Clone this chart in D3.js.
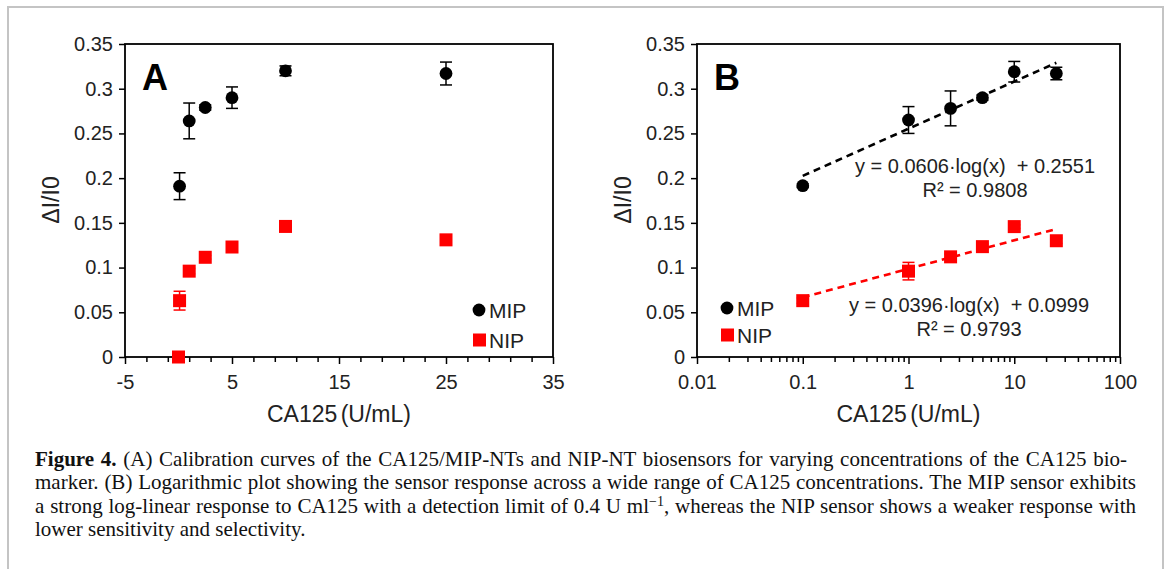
<!DOCTYPE html>
<html>
<head>
<meta charset="utf-8">
<script src="https://cdn.jsdelivr.net/npm/d3@7"></script>
<style>
    body { margin: 0; background: #fff; }
    svg { display: block; font-family: "Liberation Sans", Arial, sans-serif; }
    .caption { font-family: "Liberation Serif", "Times New Roman", serif; font-size: 21px; fill: #111; }
</style>
</head>
<body>
<svg id="drawing_region"></svg>
<script>
// concentrations of CA125 (U/mL)
const concentrations = [0.1, 1, 2.5, 5, 10, 25];
const concentrationsNipA = [0, 0.1, 1, 2.5, 5, 10, 25];

// panel A, linear axis
const mipA = [0.191, 0.264, 0.279, 0.290, 0.320, 0.317];
const mipErrA = [0.015, 0.020, 0.003, 0.012, 0.0055, 0.0128];
const nipA = [0, 0.063, 0.096, 0.1115, 0.123, 0.146, 0.131];
const nipErrA = [0.002, 0.0105, 0.003, 0.002, 0.002, 0.002, 0.003];

// panel B, log axis
const mipB = [0.1916, 0.265, 0.278, 0.290, 0.319, 0.317];
const mipErrB = [0.002, 0.015, 0.0195, 0.003, 0.0115, 0.007];
const nipB = [0.063, 0.096, 0.112, 0.1234, 0.1458, 0.130];
const nipErrB = [0.003, 0.0098, 0.003, 0.003, 0.002, 0.003];

// fitted lines as drawn in panel B
const trendX = [0.1, 25];
const mipTrendY = [0.2025, 0.329];
const nipTrendY = [0.0667, 0.1432];

const yTicks = [0, 0.05, 0.1, 0.15, 0.2, 0.25, 0.3, 0.35];
const xTicksA = [-5, 5, 15, 25, 35];
const xTicksB = [0.01, 0.1, 1, 10, 100];
const xTickLabelsB = ["0.01", "0.1", "1", "10", "100"];

const mipEquation = ["y = 0.0606·log(x)  + 0.2551", "R² = 0.9808"];
const nipEquation = ["y = 0.0396·log(x)  + 0.0999", "R² = 0.9793"];

const captionLines = [
    [{t: "Figure 4.", bold: true}, {t: " (A) Calibration curves of the CA125/MIP-NTs and NIP-NT biosensors for varying concentrations of the CA125 bio-"}],
    [{t: "marker. (B) Logarithmic plot showing the sensor response across a wide range of CA125 concentrations. The MIP sensor exhibits"}],
    [{t: "a strong log-linear response to CA125 with a detection limit of 0.4 U ml"}, {t: "−1", sup: true}, {t: ", whereas the NIP sensor shows a weaker response with"}],
    [{t: "lower sensitivity and selectivity."}]
];

const RED = "#ff0000";
const BLACK = "#000";

const svg = d3.select('#drawing_region')
    .attr('width', 1170)
    .attr('height', 569);

// grey page frame
svg.append('rect')
    .attr('x', 8).attr('y', 7)
    .attr('width', 1155).attr('height', 600)
    .attr('fill', 'none')
    .attr('stroke', '#c4c4c4')
    .attr('stroke-width', 2);

const yscale = d3.scaleLinear().domain([0, 0.35]).range([357, 44]);
const yFormat = d => String(+d.toFixed(2));

function styleAxis(g) {
    g.select('.domain').remove();
    g.selectAll('.tick line').attr('stroke', BLACK).attr('stroke-width', 1.5);
    g.selectAll('.tick text').attr('font-size', 20).attr('fill', '#222')
        .attr('font-family', '"Liberation Sans", Arial, sans-serif');
}

function errorBars(g, xs, ys, es, color, xscale) {
    const eb = g.append('g').attr('stroke', color).attr('stroke-width', 1.5);
    xs.forEach((xv, i) => {
        const cx = xscale(xv);
        const y1 = yscale(ys[i] - es[i]), y2 = yscale(ys[i] + es[i]);
        eb.append('line').attr('x1', cx).attr('x2', cx).attr('y1', y1).attr('y2', y2);
        eb.append('line').attr('x1', cx - 6).attr('x2', cx + 6).attr('y1', y1).attr('y2', y1);
        eb.append('line').attr('x1', cx - 6).attr('x2', cx + 6).attr('y1', y2).attr('y2', y2);
    });
}

function circles(g, xs, ys, xscale) {
    g.selectAll(null).data(xs).enter().append('circle')
        .attr('cx', d => xscale(d))
        .attr('cy', (d, i) => yscale(ys[i]))
        .attr('r', 6.4)
        .attr('fill', BLACK);
}

function squares(g, xs, ys, xscale) {
    g.selectAll(null).data(xs).enter().append('rect')
        .attr('x', d => xscale(d) - 6.5)
        .attr('y', (d, i) => yscale(ys[i]) - 6.5)
        .attr('width', 13).attr('height', 13)
        .attr('fill', RED);
}

function drawPanel(cfg) {
    const g = svg.append('g');
    const xscale = cfg.xscale;
    const [left, right] = xscale.range();
    const [bottom, top] = yscale.range();

    // y axis
    g.append('g')
        .attr('transform', `translate(${left},0)`)
        .call(d3.axisLeft(yscale).tickValues(yTicks).tickSize(6).tickPadding(6).tickFormat(yFormat))
        .call(styleAxis);

    // x axis, minor then major
    g.append('g')
        .attr('transform', `translate(0,${bottom})`)
        .call(d3.axisBottom(xscale).tickValues(cfg.minorTicks).tickSize(5).tickFormat(''))
        .call(styleAxis);
    g.append('g')
        .attr('transform', `translate(0,${bottom})`)
        .call(d3.axisBottom(xscale).tickValues(cfg.majorTicks).tickSize(7).tickPadding(11).tickFormat(cfg.tickFormat))
        .call(styleAxis);

    // plot frame
    g.append('rect')
        .attr('x', left).attr('y', top)
        .attr('width', right - left).attr('height', bottom - top)
        .attr('fill', 'none')
        .attr('stroke', BLACK)
        .attr('stroke-width', 1.8);

    // axis titles
    g.append('text')
        .attr('x', (left + right) / 2)
        .attr('y', 422)
        .attr('text-anchor', 'middle')
        .attr('font-size', 23)
        .attr('word-spacing', -3)
        .attr('fill', '#222')
        .text('CA125 (U/mL)');

    g.append('text')
        .attr('transform', `translate(${left - 66},200) rotate(-90)`)
        .attr('text-anchor', 'middle')
        .attr('font-size', 23)
        .attr('fill', '#222')
        .text('ΔI/I0');

    // panel letter
    g.append('text')
        .attr('x', left + 17)
        .attr('y', 90)
        .attr('font-size', 36)
        .attr('font-weight', 'bold')
        .attr('fill', BLACK)
        .text(cfg.letter);

    return g;
}

function legend(g, x, y, gap) {
    g.append('circle').attr('cx', x).attr('cy', y).attr('r', 6.4).attr('fill', BLACK);
    g.append('text').attr('x', x + 10).attr('y', y + 7.5).attr('font-size', 21).attr('fill', '#222').text('MIP');
    g.append('rect').attr('x', x - 6).attr('y', y + gap - 6.5).attr('width', 13).attr('height', 13).attr('fill', RED);
    g.append('text').attr('x', x + 10).attr('y', y + gap + 7.5).attr('font-size', 21).attr('fill', '#222').text('NIP');
}

function equation(g, cx, y, lines) {
    lines.forEach((t, i) => {
        g.append('text')
            .attr('x', cx).attr('y', y + i * 24)
            .attr('text-anchor', 'middle')
            .attr('font-size', 20)
            .attr('fill', '#222')
            .style('white-space', 'pre')
            .text(t);
    });
}

// ---- panel A ----
const xA = d3.scaleLinear().domain([-5, 35]).range([125, 553]);
const minorA = d3.range(-5, 35.01, 2).filter(v => !xTicksA.includes(v));
const gA = drawPanel({
    xscale: xA, letter: 'A',
    majorTicks: xTicksA, minorTicks: minorA,
    tickFormat: d => String(d)
});
errorBars(gA, concentrationsNipA, nipA, nipErrA, RED, xA);
squares(gA, concentrationsNipA, nipA, xA);
errorBars(gA, concentrations, mipA, mipErrA, BLACK, xA);
circles(gA, concentrations, mipA, xA);
legend(gA, 479, 310, 30);

// ---- panel B ----
const xB = d3.scaleLog().domain([0.01, 100]).range([697, 1120]);
const minorB = [];
xTicksB.slice(0, -1).forEach(p => d3.range(2, 10).forEach(m => minorB.push(p * m)));
const gB = drawPanel({
    xscale: xB, letter: 'B',
    majorTicks: xTicksB, minorTicks: minorB,
    tickFormat: (d, i) => xTickLabelsB[i]
});

const trendLine = d3.line().x(d => xB(d[0])).y(d => yscale(d[1]));
gB.append('path')
    .attr('d', trendLine(trendX.map((v, i) => [v, mipTrendY[i]])))
    .attr('fill', 'none').attr('stroke', BLACK)
    .attr('stroke-width', 2.6).attr('stroke-dasharray', '7,5');
gB.append('path')
    .attr('d', trendLine(trendX.map((v, i) => [v, nipTrendY[i]])))
    .attr('fill', 'none').attr('stroke', RED)
    .attr('stroke-width', 2.6).attr('stroke-dasharray', '7,5');

errorBars(gB, concentrations, nipB, nipErrB, RED, xB);
squares(gB, concentrations, nipB, xB);
errorBars(gB, concentrations, mipB, mipErrB, BLACK, xB);
circles(gB, concentrations, mipB, xB);
legend(gB, 727, 308, 27);
equation(gB, 975, 173, mipEquation);
equation(gB, 969, 312, nipEquation);

// ---- caption ----
const captionX = 35;
const captionRight = [1127, 1136, 1136, null];
captionLines.forEach((parts, i) => {
    const txt = svg.append('text')
        .attr('class', 'caption')
        .attr('x', captionX)
        .attr('y', 466 + i * 23.3)
        .style('white-space', 'pre');
    parts.forEach((p, k) => {
        const ts = txt.append('tspan').text(p.t);
        if (p.bold) ts.attr('font-weight', 'bold');
        if (p.sup) ts.attr('font-size', 14).attr('dy', -7);
        if (k > 0 && parts[k - 1].sup) ts.attr('dy', 7);
    });
    // justify full lines by spreading the spaces
    if (captionRight[i]) {
        const w = txt.node().getComputedTextLength();
        const spaces = parts.map(p => p.t).join('').split(' ').length - 1;
        const extra = (captionRight[i] - captionX - w) / spaces;
        txt.attr('word-spacing', extra);
    }
});
</script>
</body>
</html>
